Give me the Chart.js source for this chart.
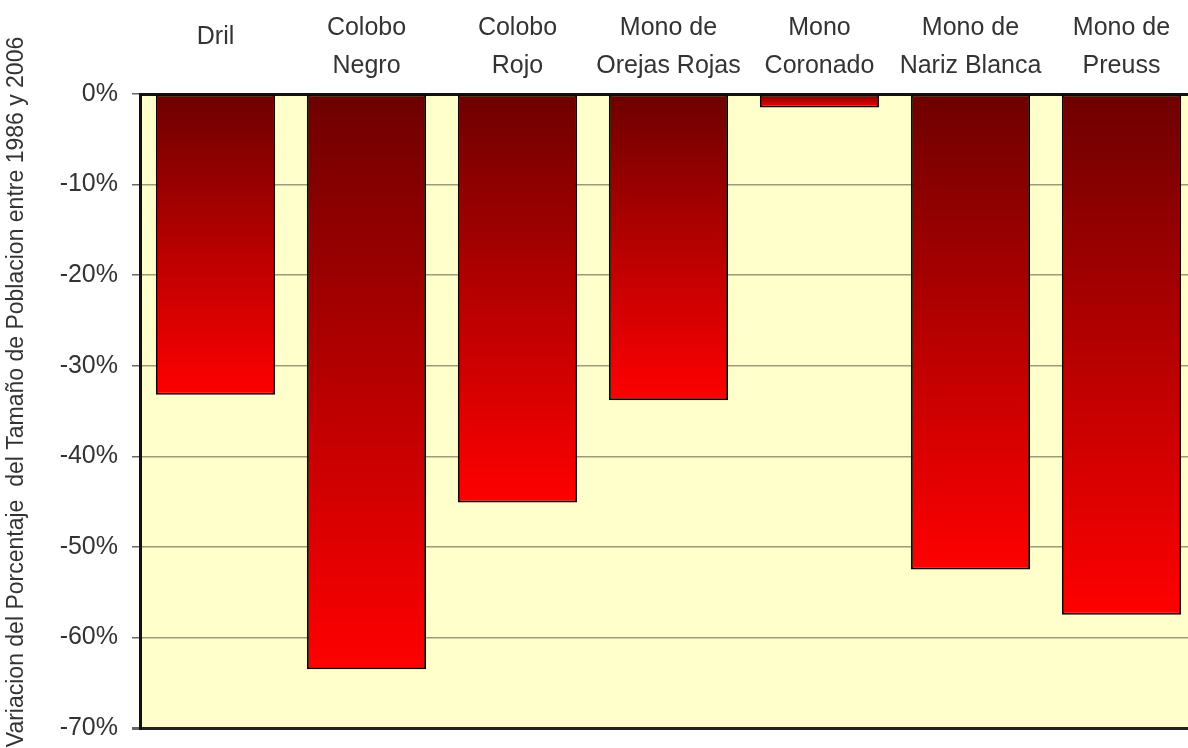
<!DOCTYPE html>
<html lang="es">
<head>
	<meta charset="UTF-8">
	<title>Variacion de poblacion de primates</title>
	<script src="https://cdn.jsdelivr.net/npm/chart.js"></script>
	<style>
		body { margin: 0; overflow: hidden; background: #fff; }
		#wrap { width: 1200px; height: 748px; }
	</style>
</head>
<body>
	<div id="wrap">
		<canvas id="myChart" width="1200" height="748"></canvas>
	</div>

	<script>
		// data
		const species = [
			['Dril'],
			['Colobo', 'Negro'],
			['Colobo', 'Rojo'],
			['Mono de', 'Orejas Rojas'],
			['Mono', 'Coronado'],
			['Mono de', 'Nariz Blanca'],
			['Mono de', 'Preuss']
		];
		const change = [-33.2, -63.5, -45.1, -33.8, -1.5, -52.5, -57.5];
		const yMin = -70, yMax = 0, yStep = 10;
		const yTitle = 'Variacion del Porcentaje  del Tamaño de Poblacion entre 1986 y 2006';

		const fontFam = "'Liberation Sans', Arial, sans-serif";

		// yellow plot background + rotated axis title
		const decor = {
			id: 'decor',
			beforeDraw(chart) {
				const a = chart.chartArea;
				const ctx = chart.ctx;
				ctx.save();
				ctx.fillStyle = '#FFFFCC';
				ctx.fillRect(a.left, a.top, a.right - a.left, a.bottom - a.top);
				ctx.restore();
			},
			afterDraw(chart) {
				const a = chart.chartArea;
				const ctx = chart.ctx;
				ctx.save();
				ctx.translate(17, (a.top + a.bottom) / 2 - 19);
				ctx.rotate(-Math.PI / 2);
				ctx.font = '23px ' + fontFam;
				ctx.fillStyle = '#333';
				ctx.textAlign = 'center';
				ctx.textBaseline = 'middle';
				ctx.fillText(yTitle, 0, 0);
				ctx.restore();
			}
		};

		function barFill(c) {
			const chart = c.chart;
			if (!chart.chartArea) return '#c00000';
			const y = chart.scales.y;
			const y0 = y.getPixelForValue(0);
			const y1 = y.getPixelForValue(c.raw);
			if (Math.abs(y1 - y0) < 1) return '#ff0000';
			const g = chart.ctx.createLinearGradient(0, y0, 0, y1);
			g.addColorStop(0, '#6e0000');
			g.addColorStop(1, '#ff0000');
			return g;
		}

		new Chart(document.getElementById('myChart'), {
			type: 'bar',
			data: {
				labels: species,
				datasets: [{
					data: change,
					backgroundColor: barFill,
					borderColor: '#1a0000',
					borderWidth: 2,
					borderSkipped: false,
					categoryPercentage: 1,
					barPercentage: 0.79
				}]
			},
			options: {
				responsive: false,
				animation: false,
				layout: { padding: { left: 0, top: 0, right: 3, bottom: 20 } },
				plugins: {
					legend: { display: false },
					tooltip: { enabled: false }
				},
				scales: {
					x: {
						position: 'top',
						grid: { display: false, drawTicks: false },
						border: { display: true, color: '#111', width: 3 },
						ticks: {
							color: '#333',
							padding: 9,
							crossAlign: 'far',
							maxRotation: 0,
							autoSkip: false,
							font: (c) => {
								const lbl = species[c.index] || [];
								return { family: fontFam, size: 25, lineHeight: lbl.length < 2 ? '57px' : '38px' };
							}
						},
						afterFit(s) { s.height = 94; }
					},
					y: {
						min: yMin,
						max: yMax,
						grid: {
							color: (c) => c.tick && c.tick.value === yMin ? '#222' : '#9c9c7c',
							lineWidth: (c) => c.tick && c.tick.value === yMin ? 3 : 1.5,
							tickColor: '#666',
							tickLength: 8
						},
						border: { display: true, color: '#111', width: 3 },
						ticks: {
							stepSize: yStep,
							padding: 14,
							color: '#333',
							font: { family: fontFam, size: 25 },
							callback: (v) => v + '%'
						},
						afterFit(s) {
							s.width = 140;
							s.paddingTop = 0;
							s.paddingBottom = 0;
						}
					}
				}
			},
			plugins: [decor]
		});
	</script>
</body>
</html>
